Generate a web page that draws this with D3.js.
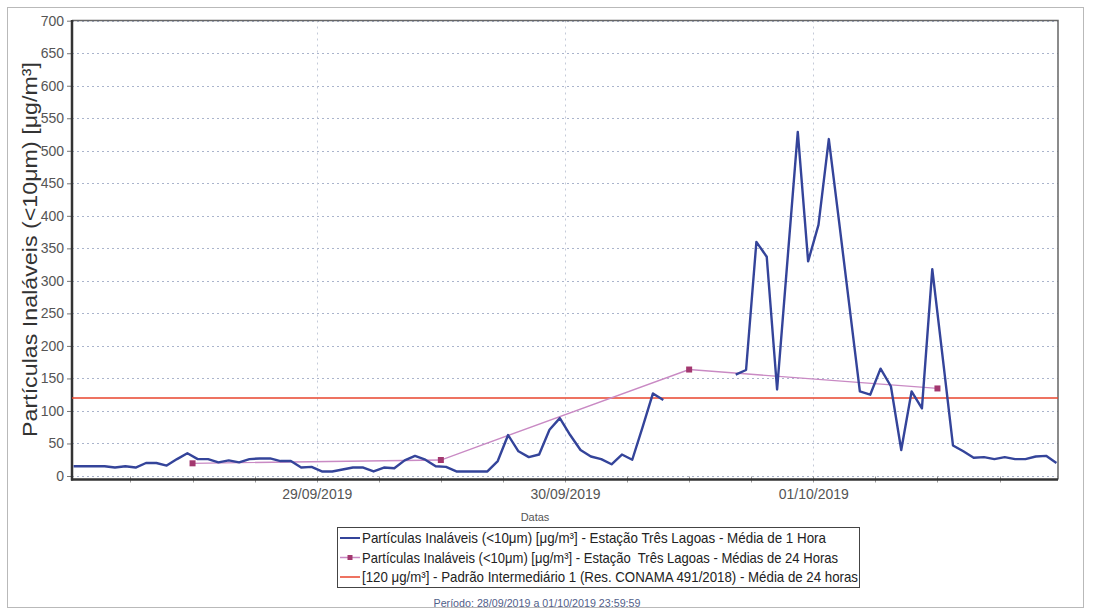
<!DOCTYPE html>
<html>
<head>
<meta charset="utf-8">
<script src="https://cdn.jsdelivr.net/npm/d3@7"></script>
<style>
  html, body { margin: 0; padding: 0; background: #fff; }
  svg { display: block; }
  text { white-space: pre; }
</style>
</head>
<body>
<svg id="chart" width="1097" height="611"></svg>
<script>
// PM10 hourly means, Estação Três Lagoas, 28/09/2019 00:00 – 01/10/2019 23:00 (null = no data)
const hourlyStart = new Date(2019, 8, 28, 0, 30);
const hourlyPM10 = [
  // 28/09
  15, 15, 15, 15, 13, 15, 13, 20, 20, 16, 26, 35,
  26, 26, 21, 24, 21, 26, 27, 27, 23, 23, 13, 14,
  // 29/09
  7, 7, 10, 13, 13, 7, 13, 12, 24, 31, 25, 15,
  14, 7, 7, 7, 7, 23, 63, 38, 29, 33, 71, 89,
  // 30/09
  63, 40, 30, 26, 18, 33, 25, 75, 127, 117, null, null,
  null, null, null, null, 156, 163, 360, 337, 133, 331, 529, 330,
  // 01/10
  386, 518, 390, 260, 130, 125, 165, 138, 40, 130, 104, 318,
  183, 47, 38, 28, 29, 26, 29, 26, 26, 30, 31, 20
];

// 24-hour means, plotted at midday
const dailyDates = [new Date(2019, 8, 28, 12), new Date(2019, 8, 29, 12), new Date(2019, 8, 30, 12), new Date(2019, 9, 1, 12)];
const dailyMeans = [19.5, 24.6, 163.7, 134.6];

// CONAMA 491/2018 intermediate standard 1 (24 h)
const standardValue = 120;

const yTicks = d3.range(0, 701, 50);
const dayTicks = [new Date(2019, 8, 29), new Date(2019, 8, 30), new Date(2019, 9, 1)];

const legendLabels = [
  "Partículas Inaláveis (<10μm) [μg/m³] - Estação Três Lagoas - Média de 1 Hora",
  "Partículas Inaláveis (<10μm) [μg/m³] - Estação  Três Lagoas - Médias de 24 Horas",
  "[120 μg/m³] - Padrão Intermediário 1 (Res. CONAMA 491/2018) - Média de 24 horas"
];
const yTitle = "Partículas Inaláveis (<10μm) [μg/m³]";
const xTitle = "Datas";
const periodLabel = "Período: 28/09/2019 a 01/10/2019 23:59:59";

const BLUE = "#34449a", PINK = "#c98ac4", MARKER = "#a3386f", RED = "#e8452c";
const narrow = "'Liberation Sans Narrow', 'Arial Narrow', 'Liberation Sans', Arial, sans-serif";
const sans = "'Liberation Sans', Arial, sans-serif";

const svg = d3.select("#chart");
const plot = { left: 72, right: 1058, top: 20.5, bottom: 479.5 };

const x = d3.scaleTime()
  .domain([new Date(2019, 8, 28), new Date(2019, 9, 2)])
  .range([68.4, 1061.6]);
const y = d3.scaleLinear().domain([0, 700]).range([476, 20.7]);

// outer frame
svg.append("rect").attr("x", 7.5).attr("y", 7.5).attr("width", 1076).attr("height", 600)
  .attr("fill", "none").attr("stroke", "#b9b9b9").attr("stroke-width", 1);

svg.append("defs").append("clipPath").attr("id", "plotClip")
  .append("rect").attr("x", plot.left).attr("y", plot.top)
  .attr("width", plot.right - plot.left).attr("height", plot.bottom - plot.top);

// horizontal grid
svg.append("g").selectAll("line").data(yTicks).join("line")
  .attr("x1", plot.left).attr("x2", plot.right)
  .attr("y1", d => Math.round(y(d)) + 0.5).attr("y2", d => Math.round(y(d)) + 0.5)
  .attr("stroke", "#aab4cc").attr("stroke-width", 1).attr("stroke-dasharray", "2,3");

// vertical grid at day boundaries
svg.append("g").selectAll("line").data(dayTicks).join("line")
  .attr("x1", d => Math.round(x(d)) + 0.5).attr("x2", d => Math.round(x(d)) + 0.5)
  .attr("y1", plot.top).attr("y2", plot.bottom)
  .attr("stroke", "#c4cad8").attr("stroke-width", 1).attr("stroke-dasharray", "2,4");

// plot frame (top and right)
svg.append("path")
  .attr("d", `M${plot.left},${plot.top}H${plot.right}V${plot.bottom}`)
  .attr("fill", "none").attr("stroke", "#666").attr("stroke-width", 1.5);

// y axis
const yAxis = d3.axisLeft(y).tickValues(yTicks).tickSize(5).tickPadding(3).tickFormat(d3.format("d"));
const gy = svg.append("g").attr("transform", `translate(${plot.left},0)`).call(yAxis);
gy.select(".domain").remove();
gy.selectAll(".tick line").attr("stroke", "#777");
gy.selectAll(".tick text").attr("font-family", narrow).attr("font-size", 14).attr("fill", "#555");
svg.append("line").attr("x1", plot.left).attr("x2", plot.left).attr("y1", plot.top - 0.5).attr("y2", plot.bottom + 1)
  .attr("stroke", "#333").attr("stroke-width", 2.5);

// x axis: day labels plus 6-hour minor ticks
const xAxis = d3.axisBottom(x).tickValues(dayTicks).tickSize(0).tickPadding(10)
  .tickFormat(d3.timeFormat("%d/%m/%Y"));
const gx = svg.append("g").attr("transform", `translate(0,${plot.bottom})`).call(xAxis);
gx.select(".domain").remove();
gx.selectAll(".tick text").attr("font-family", narrow).attr("font-size", 14).attr("fill", "#555");
const minorTicks = d3.timeHour.every(6).range(new Date(2019, 8, 28, 6), new Date(2019, 9, 2));
svg.append("g").selectAll("line").data(minorTicks).join("line")
  .attr("x1", d => Math.round(x(d)) + 0.5).attr("x2", d => Math.round(x(d)) + 0.5)
  .attr("y1", plot.bottom - 3).attr("y2", plot.bottom + 3)
  .attr("stroke", "#999").attr("stroke-width", 1);
svg.append("line").attr("x1", plot.left - 1).attr("x2", plot.right).attr("y1", plot.bottom).attr("y2", plot.bottom)
  .attr("stroke", "#333").attr("stroke-width", 2.5);

const series = svg.append("g").attr("clip-path", "url(#plotClip)");

// standard line
series.append("line")
  .attr("x1", plot.left).attr("x2", plot.right)
  .attr("y1", y(standardValue)).attr("y2", y(standardValue))
  .attr("stroke", RED).attr("stroke-width", 1.6);

// 24-hour means
const dailyData = dailyDates.map((d, i) => ({ t: d, v: dailyMeans[i] }));
series.append("path").datum(dailyData)
  .attr("d", d3.line().x(d => x(d.t)).y(d => y(d.v)))
  .attr("fill", "none").attr("stroke", PINK).attr("stroke-width", 1.3);
series.append("g").selectAll("rect").data(dailyData).join("rect")
  .attr("x", d => x(d.t) - 3).attr("y", d => y(d.v) - 3)
  .attr("width", 6).attr("height", 6).attr("fill", MARKER);

// hourly means
const hourlyData = hourlyPM10.map((v, i) => ({ t: d3.timeHour.offset(hourlyStart, i), v }));
series.append("path").datum(hourlyData)
  .attr("d", d3.line().defined(d => d.v != null).x(d => x(d.t)).y(d => y(d.v)))
  .attr("fill", "none").attr("stroke", BLUE).attr("stroke-width", 2.4)
  .attr("stroke-linejoin", "round");

// axis titles
svg.append("text")
  .attr("transform", `translate(37,${(62 + 437) / 2}) rotate(-90)`)
  .attr("text-anchor", "middle").attr("font-family", sans).attr("font-size", 20)
  .attr("fill", "#333").attr("textLength", 375).attr("lengthAdjust", "spacingAndGlyphs")
  .text(yTitle);
svg.append("text").attr("x", 535).attr("y", 521).attr("text-anchor", "middle")
  .attr("font-family", narrow).attr("font-size", 11).attr("fill", "#555").text(xTitle);

// legend
const legend = svg.append("g");
legend.append("rect").attr("x", 337.5).attr("y", 527.5).attr("width", 522).attr("height", 60)
  .attr("fill", "#fff").attr("stroke", "#444").attr("stroke-width", 1);
const legendColors = [BLUE, PINK, RED];
const legendWidths = [464, 476, 496];
legendLabels.forEach((label, i) => {
  const cy = 538 + i * 19.5;
  legend.append("line").attr("x1", 340).attr("x2", 360).attr("y1", cy).attr("y2", cy)
    .attr("stroke", legendColors[i]).attr("stroke-width", i === 0 ? 2 : 1.5);
  if (i === 1) {
    legend.append("rect").attr("x", 347.5).attr("y", cy - 2.5).attr("width", 5).attr("height", 5).attr("fill", MARKER);
  }
  legend.append("text").attr("x", 362).attr("y", cy + 5)
    .attr("font-family", narrow).attr("font-size", 15).attr("fill", "#222")
    .attr("textLength", legendWidths[i]).attr("lengthAdjust", "spacingAndGlyphs")
    .text(label);
});

svg.append("text").attr("x", 537).attr("y", 607).attr("text-anchor", "middle")
  .attr("font-family", narrow).attr("font-size", 11).attr("fill", "#51608a")
  .attr("textLength", 207).attr("lengthAdjust", "spacingAndGlyphs")
  .text(periodLabel);
</script>
</body>
</html>
